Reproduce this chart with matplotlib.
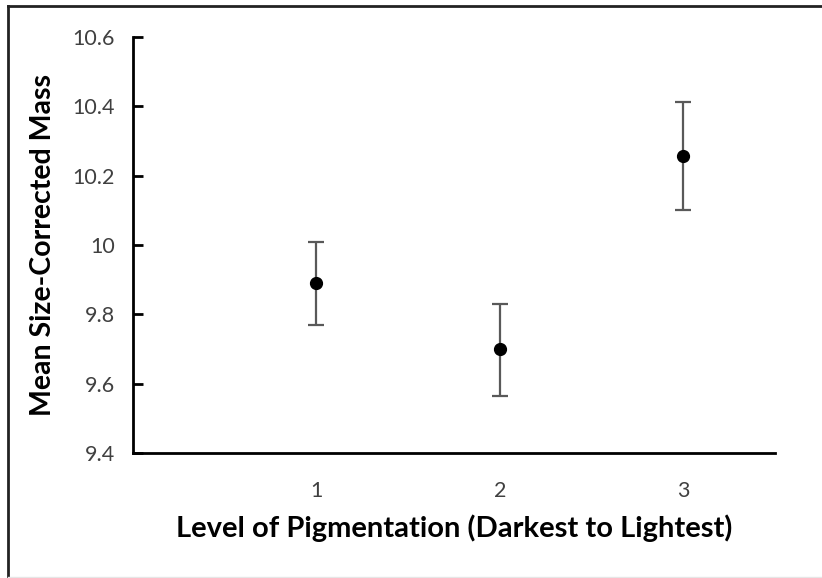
import matplotlib
matplotlib.use("Agg")
import matplotlib.pyplot as plt
from matplotlib.lines import Line2D

levels = [1, 2, 3]
means = [9.89, 9.70, 10.257]
err_lo = [0.12, 0.135, 0.155]
err_hi = [0.12, 0.13, 0.155]
yticks = [9.4, 9.6, 9.8, 10.0, 10.2, 10.4, 10.6]
yticklabels = ["9.4", "9.6", "9.8", "10", "10.2", "10.4", "10.6"]

plt.rcParams['font.family'] = ['Lato', 'DejaVu Sans']

fig = plt.figure(figsize=(8.22, 5.78), dpi=100)
ax = fig.add_axes([133/822, 1-453/578, (775-133)/822, (453-37)/578])

ax.errorbar(levels, means, yerr=[err_lo, err_hi], fmt='o', color='black',
            markersize=8.5, ecolor='#595959', elinewidth=1.6, capsize=6,
            capthick=1.6, zorder=3)

ax.set_xlim(0, 3.5)
ax.set_ylim(9.4, 10.6)
ax.set_xticks(levels)
ax.set_xticklabels([str(l) for l in levels])
ax.set_yticks(yticks)
ax.set_yticklabels(yticklabels)

for s in ['top', 'right']:
    ax.spines[s].set_visible(False)
ax.spines['left'].set_linewidth(2)
ax.spines['bottom'].set_linewidth(2)
ax.tick_params(axis='y', direction='in', length=7, width=2, labelsize=15.5,
               labelcolor='#404040', pad=13)
ax.tick_params(axis='x', length=0, labelsize=15.5, labelcolor='#404040', pad=20)

ax.set_xlabel("Level of Pigmentation (Darkest to Lightest)", fontsize=21,
              fontweight='bold', labelpad=10)
ax.set_ylabel("Mean Size-Corrected Mass", fontsize=20.5, fontweight='bold',
              labelpad=12)

# screenshot frame (top and left borders)
fig.add_artist(Line2D([7.5/822, 1], [1-5.5/578, 1-5.5/578], color='#222222', lw=2))
fig.add_artist(Line2D([7.5/822, 7.5/822], [0, 1-5.5/578], color='#222222', lw=2))
fig.add_artist(Line2D([7.5/822, 1], [1/578, 1/578], color='#e6e6e6', lw=1))

fig.savefig("out.png", dpi=100)
